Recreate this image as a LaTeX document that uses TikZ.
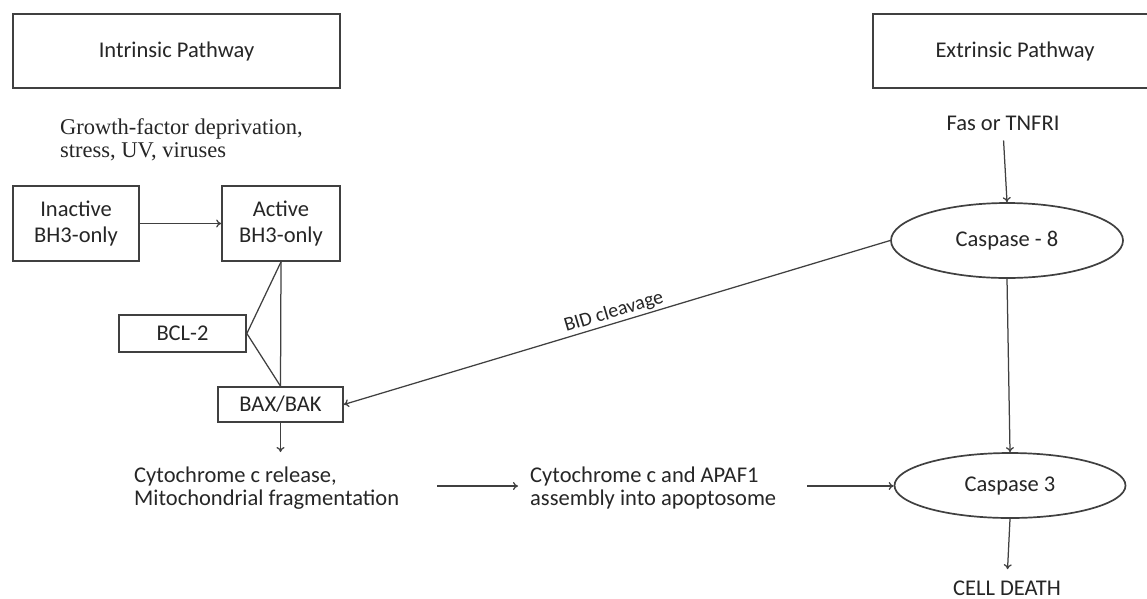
\documentclass[tikz,border=0pt]{standalone}
\usepackage{fontspec}
\setmainfont{Carlito}
\newfontfamily\seriffont{Liberation Serif}
\usetikzlibrary{arrows.meta,shapes.geometric}
\definecolor{ln}{HTML}{404040}
\definecolor{tx}{HTML}{262626}
\begin{document}
\begin{tikzpicture}[x=1pt,y=-1pt,
  every node/.style={text=tx, font=\fontsize{22.5}{26}\selectfont},
  box/.style={draw=ln, line width=1.7pt, rectangle, inner sep=0pt, align=center},
  oval/.style={draw=ln, line width=1.7pt, ellipse, inner sep=0pt},
  plaintext/.style={inner sep=0pt, align=left},
  conn/.style={draw=ln, line width=1.25pt},
  arr/.style={conn, -{To[length=5pt,width=8pt]}},
]
\useasboundingbox (0,0) rectangle (1147,598);
\clip (0,0) rectangle (1147,598);
\fill[white] (0,0) rectangle (1147,598);

% headers
\node[box, minimum width=327pt, minimum height=74pt] (intr) at (176.5,51) {Intrinsic Pathway};
\node[box, minimum width=284pt, minimum height=74pt] (extr) at (1015,51) {Extrinsic Pathway};

% texts
\node[plaintext, anchor=west, font=\seriffont\fontsize{22.5}{23.5}\selectfont] (growth) at (60,140) {Growth-factor deprivation,\\stress, UV, viruses};
\node[inner sep=0pt] (fas) at (1003,123) {Fas or TNFRI};

% intrinsic boxes
\node[box, minimum width=126pt, minimum height=75pt] (inact) at (76,223.5) {Inactive\\BH3-only};
\node[box, minimum width=118pt, minimum height=75pt] (act) at (281,223.5) {Active\\BH3-only};
\node[box, minimum width=127pt, minimum height=37pt] (bcl) at (182.5,333.5) {BCL-2};
\node[box, minimum width=125pt, minimum height=35pt] (bax) at (280.5,404.5) {BAX/BAK};

\node[plaintext, anchor=west, font=\fontsize{22.5}{23}\selectfont] (cyto1) at (134,488) {Cytochrome c release,\\Mitochondrial fragmentation};
\node[plaintext, anchor=west, font=\fontsize{22.5}{23}\selectfont] (cyto2) at (530,488) {Cytochrome c and APAF1\\assembly into apoptosome};

% extrinsic
\node[oval, minimum width=232pt, minimum height=75pt] (casp8) at (1007,240.5) {Caspase - 8};
\node[oval, minimum width=231pt, minimum height=65pt] (casp3) at (1010,485.5) {Caspase 3};
\node[inner sep=0pt, anchor=base] (death) at (1007,595) {CELL DEATH};

% connectors
\coordinate (baxend) at (280.5,452);
\coordinate (a1) at (437,486);
\coordinate (a2) at (807,486);

\draw[arr] (inact) -- (act);
\draw[conn] (act.south) -- (bax.north);
\draw[conn] (bcl.east) -- (act.south);
\draw[conn] (bcl.east) -- (bax.north);
\draw[arr] (bax.south) -- (baxend);
\draw[arr, shorten >=12pt] (a1) -- (cyto2.west |- a1);
\draw[arr] (a2) -- (casp3.west |- a2);
\draw[arr, shorten <=10pt] (fas.south) -- (casp8.north);
\draw[arr] (casp8.south) -- (casp3.north);
\draw[arr, shorten >=11pt] (casp3.south) -- (death.north);
\draw[arr] (casp8.west) -- node[midway, above, sloped, inner sep=1.5pt, font=\fontsize{20}{24}\selectfont] {BID cleavage} (bax.east);
\end{tikzpicture}
\end{document}
